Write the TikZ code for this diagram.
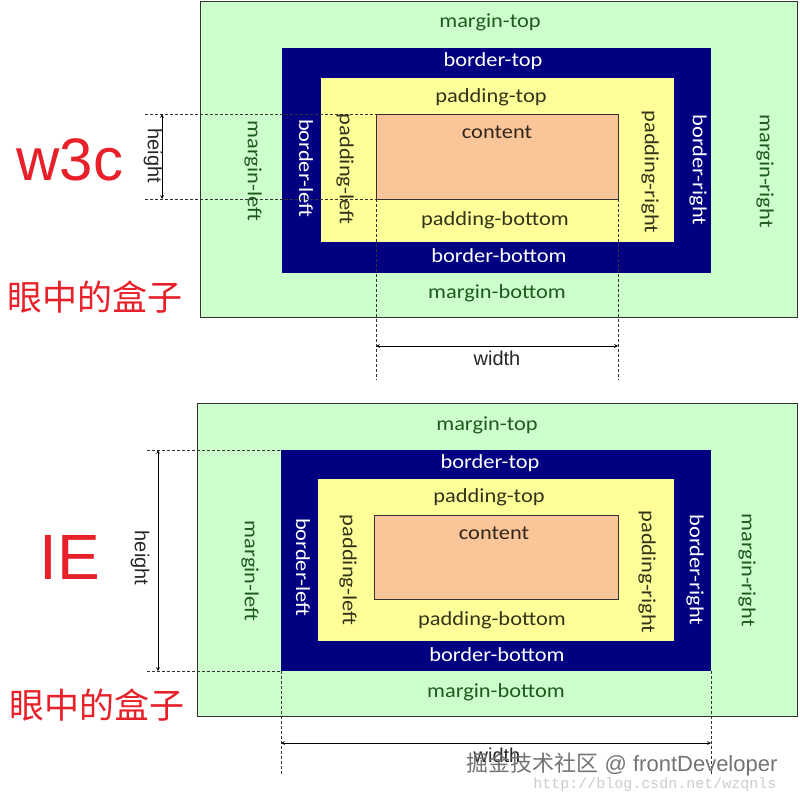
\documentclass[tikz,border=0pt]{standalone}
\usepackage{fontspec}
\setmainfont{Carlito}[FakeStretch=1.12]
\newfontfamily\arialf{Liberation Sans}
\newfontfamily\monof{Liberation Mono}
\newfontfamily\cjk{Noto Sans CJK SC}
\usetikzlibrary{arrows,positioning}
\definecolor{mgreen}{HTML}{CCFFCC}
\definecolor{bnavy}{HTML}{000080}
\definecolor{pyellow}{HTML}{FFFF99}
\definecolor{cpeach}{HTML}{FAC598}
\definecolor{mtext}{HTML}{1E5A1E}
\definecolor{ptext}{HTML}{33331A}
\definecolor{ctext}{HTML}{33261A}
\definecolor{redtxt}{HTML}{E8202A}

\begin{document}
\begin{tikzpicture}[
  x=1pt, y=-1pt,
  box/.style    = {inner sep=0pt, outer sep=0pt, anchor=north west},
  marginbox/.style  = {box, draw=black!80, fill=mgreen},
  borderbox/.style  = {box, fill=bnavy},
  padbox/.style     = {box, fill=pyellow},
  contentbox/.style = {box, draw=black!80, fill=cpeach},
  lbl/.style    = {inner sep=0pt, font=\fontsize{20}{23}\selectfont},
  mlbl/.style   = {lbl, text=mtext},
  blbl/.style   = {lbl, text=white},
  plbl/.style   = {lbl, text=ptext},
  clbl/.style   = {lbl, text=ctext},
  vert/.style   = {rotate=-90},
  dim/.style    = {densely dashed, black!80, line width=0.7pt},
  arr/.style    = {<->, >=stealth, black, line width=0.7pt},
  dimlbl/.style = {inner sep=0pt, font=\arialf\fontsize{20}{22}\selectfont, text=black!85},
  title/.style  = {inner sep=0pt, text=redtxt},
]
\useasboundingbox (0,0) rectangle (800,800);

% w3c box
\node[marginbox,  minimum width=597pt, minimum height=316pt] (m1) at (200,1)   {};
\node[borderbox,  minimum width=429pt, minimum height=225pt] (b1) at (282,48)  {};
\node[padbox,     minimum width=353pt, minimum height=164pt] (p1) at (321,78)  {};
\node[contentbox, minimum width=242pt, minimum height=85pt]  (c1) at (376,114) {};

\node[mlbl] (mt1) at (490,22)  {margin-top};
\node[blbl] (bt1) at (493,61)  {border-top};
\node[plbl] (pt1) at (491,97)  {padding-top};
\node[clbl] (ct1) at (497,132) {content};
\node[plbl] (pb1) at (495,220) {padding-bottom};
\node[blbl] (bb1) at (499,256) {border-bottom};
\node[mlbl] (mb1) at (497,293) {margin-bottom};
\node[mlbl, vert] (ml1) at (253,171) {margin-left};
\node[blbl, vert] (bl1) at (306,168) {border-left};
\node[plbl, vert] (pl1) at (345,169) {padding-left};
\node[plbl, vert] (pr1) at (650,172) {padding-right};
\node[blbl, vert] (br1) at (698,170) {border-right};
\node[mlbl, vert] (mr1) at (765,171) {margin-right};

\coordinate (h1t) at (145,114);
\coordinate (h1b) at (145,199);
\coordinate (w1l) at (376,380);
\coordinate (w1r) at (618,380);
\draw[dim] (h1t) -- (c1.north west);
\draw[dim] (h1b) -- (c1.south west);
\draw[dim] (c1.south west) -- (w1l);
\draw[dim] (c1.south east) -- (w1r);
\draw[arr] (162,114) -- (162,199);
\draw[arr] (376,346) -- (618,346);
\node[dimlbl, vert] (hl1) at (153,156) {height};
\node[dimlbl] (wl1) at (497,358) {width};

\node[title, font=\arialf\fontsize{60}{64}\selectfont] (w3c) at (70,160) {w3c};
\node[title, font=\cjk\fontsize{35}{38}\selectfont] (eye1) at (95,297) {眼中的盒子};

% IE box
\node[marginbox,  minimum width=600pt, minimum height=313pt] (m2) at (197,403) {};
\node[borderbox,  minimum width=430pt, minimum height=221pt] (b2) at (281,450) {};
\node[padbox,     minimum width=356pt, minimum height=162pt] (p2) at (318,479) {};
\node[contentbox, minimum width=244pt, minimum height=84pt]  (c2) at (374,515) {};

\node[mlbl] (mt2) at (487,425) {margin-top};
\node[blbl] (bt2) at (490,463) {border-top};
\node[plbl] (pt2) at (489,497) {padding-top};
\node[clbl] (ct2) at (494,533) {content};
\node[plbl] (pb2) at (492,620) {padding-bottom};
\node[blbl] (bb2) at (497,655) {border-bottom};
\node[mlbl] (mb2) at (496,692) {margin-bottom};
\node[mlbl, vert] (ml2) at (250,571) {margin-left};
\node[blbl, vert] (bl2) at (303,567) {border-left};
\node[plbl, vert] (pl2) at (348,570) {padding-left};
\node[plbl, vert] (pr2) at (647,572) {padding-right};
\node[blbl, vert] (br2) at (695,570) {border-right};
\node[mlbl, vert] (mr2) at (747,570) {margin-right};

\coordinate (h2t) at (147,450);
\coordinate (h2b) at (147,671);
\coordinate (w2l) at (281,775);
\coordinate (w2r) at (711,775);
\draw[dim] (h2t) -- (b2.north west);
\draw[dim] (h2b) -- (b2.south west);
\draw[dim] (b2.south west) -- (w2l);
\draw[dim] (b2.south east) -- (w2r);
\draw[arr] (158,450) -- (158,671);
\draw[arr] (281,743) -- (711,743);
\node[dimlbl, vert] (hl2) at (140,558) {height};
\node[dimlbl] (wl2) at (497,755) {width};

\node[title, font=\arialf\fontsize{64}{68}\selectfont] (ie) at (70,557) {IE};
\node[title, font=\cjk\fontsize{35}{38}\selectfont] (eye2) at (97,705) {眼中的盒子};

% watermark
\node[inner sep=0pt, text=black!55, font=\arialf\fontsize{22}{24}\selectfont] (wm1) at (622,764) {{\cjk 掘金技术社区} @ frontDeveloper};
\node[inner sep=0pt, text=black!20, font=\monof\fontsize{15}{17}\selectfont] (wm2) at (655,785) {http://blog.csdn.net/wzqnls};
\end{tikzpicture}
\end{document}
